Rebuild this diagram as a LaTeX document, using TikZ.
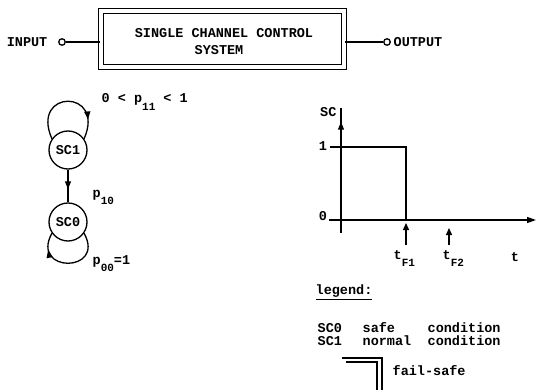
\documentclass[tikz,border=0pt]{standalone}
\usepackage{fontspec}
\setmonofont{Liberation Mono}
\usetikzlibrary{positioning}
\usetikzlibrary{arrows.meta}
\usetikzlibrary{decorations.markings}
\newcommand{\lowsub}[1]{\raisebox{-1ex}{\fontsize{11}{12}\selectfont #1}}
\tikzset{txt/.style = {font=\ttfamily\bfseries\fontsize{13.5}{15}\selectfont, inner sep = 0}}
\tikzset{port/.style = {draw, circle, inner sep = 0, minimum size = 6.5}}
\tikzset{state/.style = {draw, circle, inner sep = 0, minimum size = 38, txt}}
\tikzset{midarrow/.style = {postaction = {decorate}, decoration = {markings, mark = at position #1 with {\arrow{Triangle[length=8pt,width=6pt]}}}}}
\tikzset{every picture/.style={
    every path/.style={line width = 1.3pt},
}}

\begin{document}
\begin{tikzpicture}[x=1pt, y=-1pt]
    \useasboundingbox (0,0) rectangle (537,390);

    \node [draw, double, double distance = 3.2, minimum width = 243, minimum height = 56] (sys) at (222.5,39) {};
    \node [txt] (title) at (224,33) {SINGLE CHANNEL CONTROL};
    \node [txt] (title2) at (219,50) {SYSTEM};
    \node [port] (in) at (62,42) {};
    \node [txt, anchor = east] (inlbl) at (48,42) {INPUT};
    \node [port] (out) at (387,42) {};
    \node [txt, anchor = west] (outlbl) at (393,42) {OUTPUT};
    \draw (in) -- (in -| sys.west);
    \draw (out) -- (out -| sys.east);

    \node [state] (sc1) at (68,150) {SC1};
    \node [state] (sc0) at (68,222) {SC0};
    \draw [midarrow = 0.6] (sc1) -- (sc0);
    \draw [midarrow = 0.8] (sc1.145) .. controls +(-22,-50) and +(22,-50) .. (sc1.35);
    \draw [midarrow = 0.8] (sc0.325) .. controls +(22,40) and +(-22,40) .. (sc0.215);
    \node [txt, anchor = base west] (p11) at (101,103) {0 < p\lowsub{11} < 1};
    \node [txt, anchor = base west] (p10) at (92,197) {p\lowsub{10}};
    \node [txt, anchor = base west] (p00) at (92,264) {p\lowsub{00}=1};

    \coordinate (ybot) at (341,233);
    \coordinate (ytop) at (341,108);
    \coordinate (xleft) at (329,220);
    \coordinate (xright) at (536,220);
    \coordinate (one) at (330,147);
    \coordinate (fall) at (406,147);
    \coordinate (fallend) at (406,220);
    \coordinate (ta) at (406,245);
    \coordinate (tatip) at (406,223);
    \coordinate (tb) at (449,245);
    \coordinate (tbtip) at (449,228);
    \draw [midarrow = 0.89] (ybot) -- (ytop);
    \draw [-{Triangle[length = 9pt, width = 6pt]}] (xleft) -- (xright);
    \draw (one) -- (fall) -- (fallend);
    \draw [-{Triangle[length = 7pt, width = 6pt]}] (ta) -- (tatip);
    \draw [-{Triangle[length = 7pt, width = 6pt]}] (tb) -- (tbtip);
    \node [txt, anchor = east] (sclbl) at (337,112) {SC};
    \node [txt] (lone) at (323,146) {1};
    \node [txt] (lzero) at (323,216) {0};
    \node [txt, anchor = base west] (tf1) at (393,259) {t\lowsub{F1}};
    \node [txt, anchor = base west] (tf2) at (442,259) {t\lowsub{F2}};
    \node [txt] (tlbl) at (515,257) {t};

    \node [txt, anchor = west] (legend) at (315,292) {\underline{legend:}};
    \node [txt, anchor = west] (k0) at (317,328) {SC0};
    \node [txt, anchor = west] (d0) at (362,328) {safe};
    \node [txt, anchor = west] (c0) at (427,328) {condition};
    \node [txt, anchor = west] (k1) at (317,341) {SC1};
    \node [txt, anchor = west] (d1) at (362,341) {normal};
    \node [txt, anchor = west] (c1) at (427,341) {condition};
    \draw (342,358) -- (382,358) -- (382,390);
    \draw (346,362) -- (377,362) -- (377,390);
    \node [txt, anchor = west] (fs) at (392,371) {fail-safe};
\end{tikzpicture}
\end{document}
